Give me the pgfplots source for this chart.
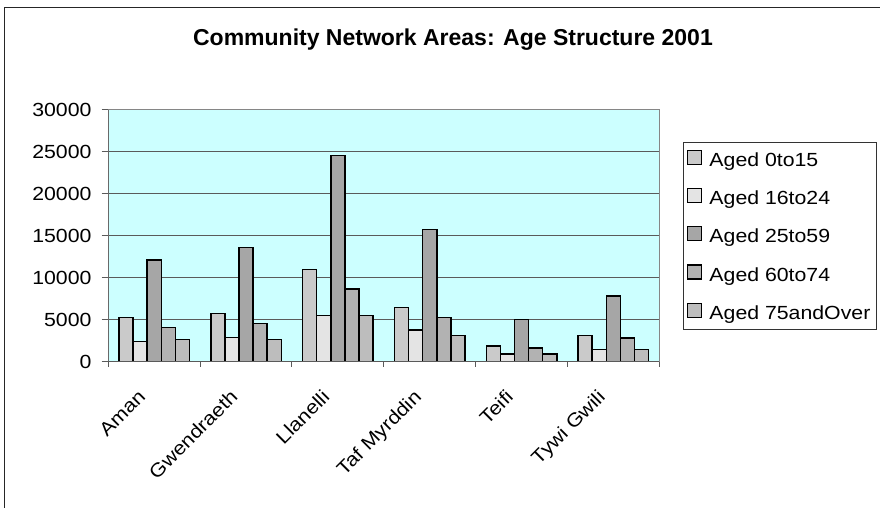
\documentclass[border=0pt]{standalone}
\usepackage{fontspec}
\setmainfont{Liberation Sans}
\newfontfamily\chartfont{Liberation Sans}[FakeStretch=1.12]
\usepackage{pgfplots}
\usepackage{pgfplotstable}
\pgfplotsset{compat=1.18}

\definecolor{plotbg}{HTML}{CCFFFF}
\definecolor{gridc}{HTML}{5A5A5A}
\definecolor{boxc}{HTML}{868686}
\definecolor{sa}{HTML}{CACACA}
\definecolor{sb}{HTML}{E4E4E4}
\definecolor{sc}{HTML}{A6A6A6}
\definecolor{sd}{HTML}{B2B2B2}
\definecolor{se}{HTML}{BDBDBD}

\pgfplotstableread{
x a b c d e
0 5280 2400 12150 4080 2640
1 5760 2880 13600 4560 2640
2 11000 5520 24550 8640 5520
3 6450 3800 15750 5250 3100
4 1900 900 5000 1650 900
5 3100 1450 7850 2850 1450
}\agedata

\begin{document}
\begin{tikzpicture}
\useasboundingbox (0,0) rectangle (880pt,508pt);
\draw[line width=1.3pt, color=black!85] (4.5pt,-5pt) -- (4.5pt,500.7pt) -- (890pt,500.7pt);
\node[anchor=base, font=\fontsize{23}{26}\selectfont\bfseries] at (453pt,462pt)
  {Community Network Areas: Age Structure 2001};
\begin{axis}[
    at={(108.3pt,146.3pt)}, anchor=south west,
    scale only axis, width=551pt, height=251.7pt,
    ybar=0pt, bar width=14.1pt,
    xmin=-0.5, xmax=5.5, ymin=0, ymax=30000,
    axis background/.style={fill=plotbg},
    axis line style={draw=boxc, line width=1pt},
    xtick={0,...,5},
    xticklabels={Aman,Gwendraeth,Llanelli,Taf Myrddin,Teifi,Tywi Gwili},
    major x tick style={draw=none},
    minor xtick={-0.5,0.5,...,5.5},
    ytick={0,5000,...,30000},
    tick align=outside, major tick length=6.6pt, minor tick length=5pt,
    tick style={draw=gridc, line width=1pt},
    xtick pos=bottom, ytick pos=left,
    ymajorgrids, grid style={draw=gridc, line width=1pt},
    scaled y ticks=false,
    /pgf/number format/assume math mode=true,
    /pgf/number format/fixed,
    /pgf/number format/set thousands separator={},
    tick label style={font=\chartfont\fontsize{19}{22}\selectfont},
    yticklabel style={anchor=east, inner sep=0pt, xshift=-10pt},
    xticklabel style={xshift=-17pt, yshift=-20pt, rotate=45, anchor=north east, inner sep=0pt},
    legend image code/.code={\draw[#1, draw=black, line width=1.1pt] (0pt,-4pt) rectangle (14pt,10pt);},
    legend cell align=left,
    legend style={at={(1.043,0.871)}, anchor=north west, draw=black!80, line width=0.8pt,
      fill=white, font=\chartfont\fontsize{19}{22}\selectfont,
      row sep=18pt, column sep=5pt, inner xsep=4pt, inner ysep=7pt},
]
\addplot[fill=sa, draw=black, line width=1.5pt] table[x=x, y=a] {\agedata};
\addplot[fill=sb, draw=black, line width=1.5pt] table[x=x, y=b] {\agedata};
\addplot[fill=sc, draw=black, line width=1.5pt] table[x=x, y=c] {\agedata};
\addplot[fill=sd, draw=black, line width=1.5pt] table[x=x, y=d] {\agedata};
\addplot[fill=se, draw=black, line width=1.5pt] table[x=x, y=e] {\agedata};
\legend{Aged 0to15, Aged 16to24, Aged 25to59, Aged 60to74, Aged 75andOver}
\draw[gridc, line width=1.2pt] (rel axis cs:0,0) -- (rel axis cs:0,1);
\draw[gridc, line width=1.2pt] (rel axis cs:0,0) -- (rel axis cs:1,0);
\end{axis}
\end{tikzpicture}
\end{document}
